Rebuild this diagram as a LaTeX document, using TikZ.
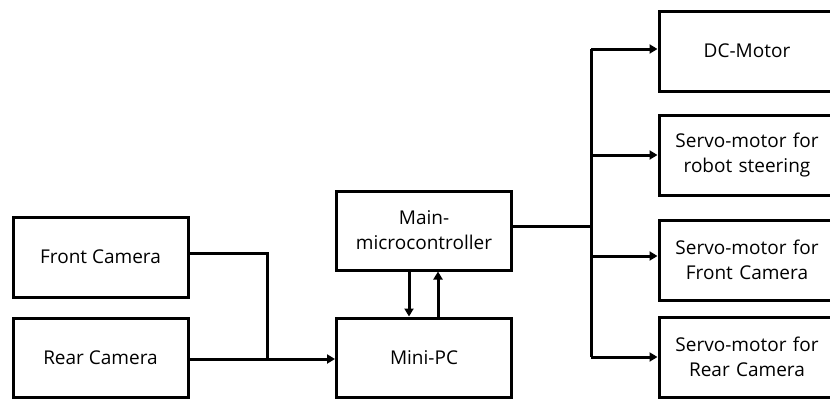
\documentclass[tikz,border=0pt]{standalone}
\usepackage{fontspec}
\setmainfont{Open Sans}
\usetikzlibrary{arrows.meta}
\begin{document}
\begin{tikzpicture}[x=1pt,y=-1pt,
  blk/.style={draw=black,line width=3pt,fill=white,inner sep=0pt,font=\fontsize{19}{25}\selectfont,align=center},
  conn/.style={line width=3pt,line join=miter},
  arr/.style={conn,-{Triangle[length=8pt,width=9pt]}}]
\useasboundingbox (0,0) rectangle (830,399);
\clip (0,0) rectangle (830,399);
\node[blk,minimum width=175pt,minimum height=80pt] (front) at (100.5,257) {Front Camera};
\node[blk,minimum width=175pt,minimum height=79pt] (rear) at (100.5,357.5) {Rear Camera};
\node[blk,minimum width=175pt,minimum height=79pt] (main) at (424,230.5) {Main-\\microcontroller};
\node[blk,minimum width=175pt,minimum height=79pt] (mini) at (424,357.5) {Mini-PC};
\node[blk,minimum width=176pt,minimum height=80pt,text width=170pt] (dc) at (747,51) {DC-Motor};
\node[blk,minimum width=176pt,minimum height=80pt,text width=170pt] (s1) at (747,155) {Servo-motor for\\robot steering};
\node[blk,minimum width=176pt,minimum height=80pt,text width=170pt] (s2) at (747,260) {Servo-motor for\\Front Camera};
\node[blk,minimum width=176pt,minimum height=80pt,text width=170pt] (s3) at (747,357) {Servo-motor for\\Rear Camera};
\coordinate (j) at (267,359);
\coordinate (bus) at (591,226);
\draw[conn] (front.east |- 0,253) -| (j);
\draw[arr] (rear.east |- 0,359) -- (mini.west |- 0,359);
\draw[arr] (main.south -| 409,0) -- (mini.north -| 409,0);
\draw[arr] (mini.north -| 438,0) -- (main.south -| 438,0);
\draw[conn] (main.east |- bus) -- (bus);
\draw[conn] (591,49) -- (591,357);
\draw[arr] (591,49) -- (dc.west |- 0,49);
\draw[arr] (591,155) -- (s1.west |- 0,155);
\draw[arr] (591,256) -- (s2.west |- 0,256);
\draw[arr] (591,357) -- (s3.west |- 0,357);
\end{tikzpicture}
\end{document}
